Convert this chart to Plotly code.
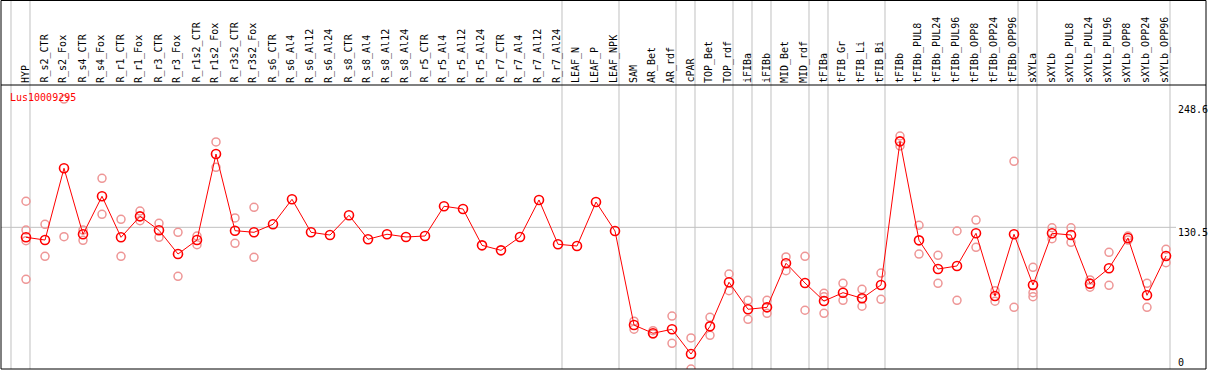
import plotly.graph_objects as go

categories = ["HYP", "R_s2_CTR", "R_s2_Fox", "R_s4_CTR", "R_s4_Fox", "R_r1_CTR", "R_r1_Fox",
              "R_r3_CTR", "R_r3_Fox", "R_r1s2_CTR", "R_r1s2_Fox", "R_r3s2_CTR", "R_r3s2_Fox",
              "R_s6_CTR", "R_s6_Al4", "R_s6_Al12", "R_s6_Al24", "R_s8_CTR", "R_s8_Al4",
              "R_s8_Al12", "R_s8_Al24", "R_r5_CTR", "R_r5_Al4", "R_r5_Al12", "R_r5_Al24",
              "R_r7_CTR", "R_r7_Al4", "R_r7_Al12", "R_r7_Al24", "LEAF_N", "LEAF_P", "LEAF_NPK",
              "SAM", "AR_Bet", "AR_rdf", "cPAR", "TOP_Bet", "TOP_rdf", "iFIBa", "iFIBb",
              "MID_Bet", "MID_rdf", "tFIBa", "tFIB_Gr", "tFIB_Li", "tFIB_Bi", "tFIBb",
              "tFIBb_PUL8", "tFIBb_PUL24", "tFIBb_PUL96", "tFIBb_OPP8", "tFIBb_OPP24",
              "tFIBb_OPP96", "sXYLa", "sXYLb", "sXYLb_PUL8", "sXYLb_PUL24", "sXYLb_PUL96",
              "sXYLb_OPP8", "sXYLb_OPP24", "sXYLb_OPP96"]

mean_values = [121.3, 118.8, 184.9, 124.1, 159.1, 121.3, 140.6, 127.8, 105.9, 118.8, 198.0,
               127.4, 125.9, 133.3, 156.3, 125.9, 123.4, 141.6, 119.5, 124.1, 121.6, 122.5,
               149.9, 147.4, 113.9, 109.3, 121.6, 155.7, 114.9, 113.3, 153.8, 127.1,
               40.5, 32.9, 36.6, 13.8, 39.3, 79.9, 55.0, 56.8, 97.4, 79.2, 62.6, 70.3, 65.1,
               77.4, 209.7, 118.5, 92.1, 94.9, 125.0, 67.2, 124.1, 77.4, 125.0, 123.4, 78.6,
               92.8, 120.7, 67.9, 104.1]

replicate_values = [
    [154.5, 128.0, 118.2, 82.6], [133.3, 103.8], [248.6, 121.9], [128.0, 118.5],
    [175.6, 142.5], [137.9, 103.8], [145.5, 136.6], [134.2, 121.3], [125.9, 85.4],
    [122.5, 114.5], [209.1, 185.8], [139.1, 115.8], [148.9, 102.9],
    [], [], [], [], [], [], [], [], [], [], [], [], [], [], [], [], [], [], [],
    [44.0, 36.6], [35.3, 32.2], [48.8, 23.7], [28.6, 0.0], [47.6, 31.0], [87.5, 72.1],
    [63.3, 45.8], [63.3, 51.3], [103.2, 90.5], [103.8, 54.1], [69.7, 66.6, 51.3],
    [78.9, 63.3], [73.4, 65.0, 57.8], [88.4, 64.2], [214.6, 205.4], [132.4, 105.9],
    [104.7, 78.9], [127.1, 63.3], [137.2, 112.1], [72.1, 62.4], [191.3, 56.8],
    [93.7, 70.3, 66.6], [130.1, 120.0], [130.1, 116.7], [82.0, 75.3], [107.5, 77.1],
    [122.5, 118.8], [78.9, 56.8], [110.3, 97.9],
]

y_ticks = [0, 130.5, 248.6]
group_last_index = [-1, 0, 28, 31, 34, 35, 37, 38, 39, 41, 42, 45, 52, 53, 60]
title_text = "Lus10009295"

W, H = 1209, 370
ML, MR, MT, MB = 1, 3, 0, 1
PW, PH = W - ML - MR, H - MT - MB
STEP = 19.0
X0 = 26.0
SCALE = 1.0857


def px(p):
    return (p - ML) / PW


def py(p):
    return (H - MB - p) / PH


x_idx = list(range(len(categories)))
rep_x, rep_y = [], []
for i, reps in enumerate(replicate_values):
    for v in reps:
        rep_x.append(i)
        rep_y.append(v)

fig = go.Figure()
fig.add_trace(go.Scatter(
    x=rep_x, y=rep_y, mode="markers",
    marker=dict(symbol="circle-open", size=8, color="rgb(238,150,150)",
                line=dict(width=1.5, color="rgb(238,150,150)")),
    hoverinfo="skip", showlegend=False))
fig.add_trace(go.Scatter(
    x=x_idx, y=mean_values, mode="lines+markers",
    line=dict(color="#ff0000", width=1),
    marker=dict(symbol="circle-open", size=9, color="#ff0000",
                line=dict(width=1.6, color="#ff0000")),
    showlegend=False))

shapes = []
for g in group_last_index:
    shapes.append(dict(type="line", xref="x", yref="paper", x0=g + 0.21, x1=g + 0.21,
                       y0=0, y1=1, line=dict(color="#c0c0c0", width=1), layer="below"))
shapes.append(dict(type="line", xref="paper", yref="y", x0=0, x1=px(1176),
                   y0=y_ticks[1], y1=y_ticks[1], line=dict(color="#c0c0c0", width=1),
                   layer="below"))
shapes.append(dict(type="line", xref="paper", yref="paper", x0=0, x1=1,
                   y0=py(85), y1=py(85), line=dict(color="black", width=1)))
shapes.append(dict(type="rect", xref="paper", yref="paper", x0=0, x1=1, y0=0, y1=py(0.5),
                   line=dict(color="black", width=1)))

annotations = []
font = dict(family="DejaVu Sans Mono", size=10, color="black")
for i, c in enumerate(categories):
    annotations.append(dict(x=i, xref="x", y=py(84), yref="paper", text=c, textangle=-90,
                            showarrow=False, xanchor="center", yanchor="bottom",
                            xshift=-1, font=font, borderpad=0))
annotations.append(dict(x=px(9), xref="paper", y=py(97), yref="paper", text=title_text,
                        showarrow=False, xanchor="left", yanchor="middle",
                        font=dict(family="DejaVu Sans Mono", size=10, color="#ff0000"),
                        borderpad=0))
label_centers = {0: 362, 130.5: 232.5, 248.6: 110}
for t in y_ticks:
    annotations.append(dict(x=px(1177), xref="paper", y=py(label_centers[t]), yref="paper",
                            text=str(t), showarrow=False, xanchor="left", yanchor="middle",
                            font=font, borderpad=0))

fig.update_layout(
    width=W, height=H,
    margin=dict(l=ML, r=MR, t=MT, b=MB, pad=0),
    paper_bgcolor="white", plot_bgcolor="white",
    xaxis=dict(range=[(ML - X0) / STEP, (ML + PW - X0) / STEP], showgrid=False,
               zeroline=False, showticklabels=False, ticks="", fixedrange=True),
    yaxis=dict(range=[0, PH / SCALE], showgrid=False, zeroline=False,
               showticklabels=False, ticks="", fixedrange=True),
    shapes=shapes, annotations=annotations,
)

fig.write_html("out.html", config={"displayModeBar": False},
               post_script="document.body.style.margin='0';"
                           "document.body.style.overflow='hidden';")
